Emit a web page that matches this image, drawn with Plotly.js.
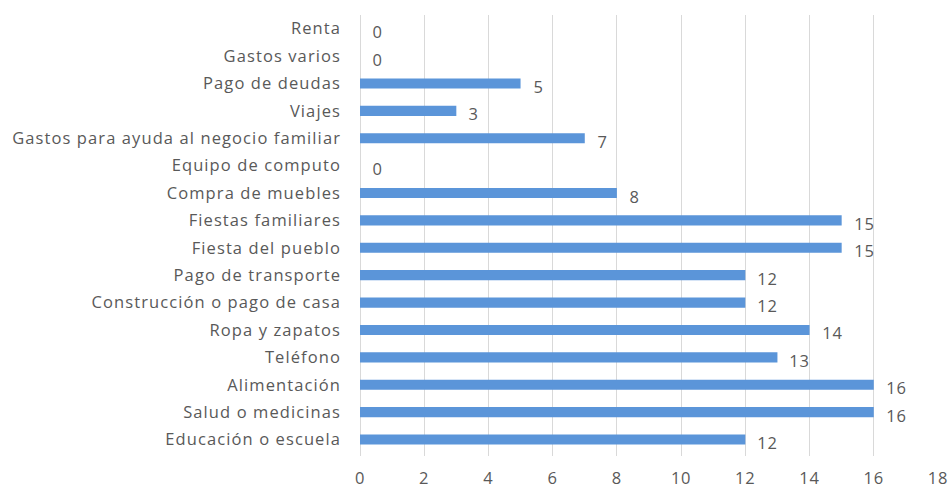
<!DOCTYPE html>
<html><head><meta charset="utf-8">
<script src="https://cdn.plot.ly/plotly-3.0.1.min.js"></script>
<style>html,body{margin:0;padding:0;background:#fff}#chart{width:951px;height:492px}
#chart .ytick text{letter-spacing:1.1px}
#chart .xtick text, #chart .annotation-text{letter-spacing:0.8px}
</style>
</head><body><div id="chart"></div>
<script>
// Categories from bottom to top
var categories = ["Educación o escuela","Salud o medicinas","Alimentación","Teléfono","Ropa y zapatos","Construcción o pago de casa","Pago de transporte","Fiesta del pueblo","Fiestas familiares","Compra de muebles","Equipo de computo","Gastos para ayuda al negocio familiar","Viajes","Pago de deudas","Gastos varios","Renta"];
var values = [12,16,16,13,14,12,12,15,15,8,0,7,3,5,0,0];
var xTicks = [0,2,4,6,8,10,12,14,16,18];

var font = {family: "'Open Sans', sans-serif", size: 16.5, color: "#595959"};
var annotations = categories.map(function(c,i){
  return {x: values[i], y: c, xref:'x', yref:'y', text: String(values[i]), showarrow:false,
    xanchor:'left', yanchor:'middle', xshift: 11, yshift: -3, font: font};
});
var trace = {type:'bar', orientation:'h', y: categories, x: values,
  marker:{color:'#5B95D9'}, hoverinfo:'none'};
var layout = {
  width:951, height:492,
  margin:{l:360, r:13, t:15, b:36},
  paper_bgcolor:'#fff', plot_bgcolor:'#fff',
  bargap:0.63,
  showlegend:false,
  font: font,
  xaxis:{range:[0,18], tickvals:xTicks, ticktext:xTicks.map(String), showgrid:true, gridcolor:'#D9D9D9', gridwidth:1,
    zeroline:true, zerolinecolor:'#D9D9D9', showline:false, ticks:'', tickfont:font, ticklabelstandoff:10},
  yaxis:{type:'category', categoryorder:'array', categoryarray:categories, showgrid:false, zeroline:false,
    showline:false, ticks:'', tickfont:font, ticklabelstandoff:18, automargin:false},
  annotations: annotations
};
Plotly.newPlot('chart',[trace],layout,{staticPlot:true, displayModeBar:false});
</script></body></html>
